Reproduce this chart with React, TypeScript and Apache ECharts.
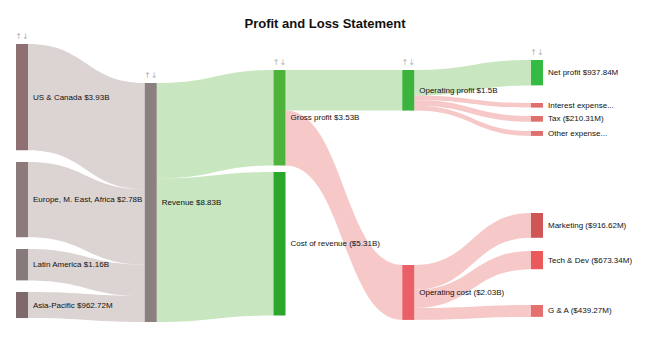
import React, { useEffect, useRef } from "react";
import * as echarts from "echarts";

const nodeNames = [
  "US & Canada",
  "Europe, M. East, Africa",
  "Latin America",
  "Asia-Pacific",
  "Revenue",
  "Gross profit",
  "Cost of revenue",
  "Operating profit",
  "Operating cost",
  "Net profit",
  "Interest expense",
  "Tax",
  "Other expense",
  "Marketing",
  "Tech & Dev",
  "G & A",
];
const nodeLabels = [
  "US & Canada $3.93B",
  "Europe, M. East, Africa $2.78B",
  "Latin America $1.16B",
  "Asia-Pacific $962.72M",
  "Revenue $8.83B",
  "Gross profit $3.53B",
  "Cost of revenue ($5.31B)",
  "Operating profit $1.5B",
  "Operating cost ($2.03B)",
  "Net profit $937.84M",
  "Interest expense...",
  "Tax ($210.31M)",
  "Other expense...",
  "Marketing ($916.62M)",
  "Tech & Dev ($673.34M)",
  "G & A ($439.27M)",
];
const nodeColors = [
  "#8e7072",
  "#8c7a7b",
  "#867a7a",
  "#7e6a6c",
  "#8a8080",
  "#4db33a",
  "#2ba82b",
  "#3cb33c",
  "#ea6068",
  "#33bb44",
  "#e07070",
  "#e07070",
  "#e07070",
  "#d05555",
  "#ea5a5a",
  "#e57070",
];
// vertical placement of each node's top edge (px from the chart top), as in the reference layout
const nodeTops = [44, 162, 249, 292, 83, 70, 172, 70, 265, 60, 103, 116, 131, 213, 251, 305];

const linkSources = [
  "US & Canada",
  "Europe, M. East, Africa",
  "Latin America",
  "Asia-Pacific",
  "Revenue",
  "Revenue",
  "Gross profit",
  "Gross profit",
  "Operating profit",
  "Operating profit",
  "Operating profit",
  "Operating profit",
  "Operating cost",
  "Operating cost",
  "Operating cost",
];
const linkTargets = [
  "Revenue",
  "Revenue",
  "Revenue",
  "Revenue",
  "Gross profit",
  "Cost of revenue",
  "Operating profit",
  "Operating cost",
  "Net profit",
  "Interest expense",
  "Tax",
  "Other expense",
  "Marketing",
  "Tech & Dev",
  "G & A",
];
// millions of dollars
const linkValues = [
  3930, 2780, 1160, 962.72, 3529.23, 5303.49, 1500, 2029.23, 937.84, 170,
  210.31, 181.85, 916.62, 673.34, 439.27,
];
const linkColors = [
  "#c5b6b6",
  "#c5b6b6",
  "#c5b6b6",
  "#c5b6b6",
  "#a3d596",
  "#a3d596",
  "#a3d596",
  "#f0a3a3",
  "#a3d596",
  "#f0a3a3",
  "#f0a3a3",
  "#f0a3a3",
  "#f0a3a3",
  "#f0a3a3",
  "#f0a3a3",
];

const W = 650;
const H = 351;
const TOP = 44;
const BOTTOM = 32;
const LEFT = 16;
const RIGHT = 107;
const NODE_W = 12;

export default function App() {
  const ref = useRef<HTMLDivElement>(null);
  useEffect(() => {
    if (!ref.current) return;
    const chart = echarts.init(ref.current, undefined, { renderer: "svg" });
    const labelMap: Record<string, string> = {};
    nodeNames.forEach((n, i) => (labelMap[n] = nodeLabels[i]));
    const layoutH = H - TOP - BOTTOM;
    const layoutW = W - LEFT - RIGHT;
    const colStep = (layoutW - NODE_W) / 4;
    // index of the first node in each column
    const colFirst = [0, 4, 5, 7, 9];
    const icons = colFirst.map((ni, c) => ({
      type: "text",
      x: LEFT + c * colStep + NODE_W / 2,
      y: nodeTops[ni] - 8,
      style: {
        text: "↑↓",
        fill: "#b0b0b0",
        fontSize: 8,
        fontFamily: "DejaVu Sans, sans-serif",
        align: "center",
        verticalAlign: "middle",
      },
      silent: true,
    }));
    chart.setOption({
      animation: false,
      backgroundColor: "#ffffff",
      title: {
        text: "Profit and Loss Statement",
        left: "center",
        top: 12,
        textStyle: {
          fontFamily: "Liberation Sans, Arial, sans-serif",
          fontSize: 13,
          fontWeight: "bold",
          color: "#111",
        },
      },
      graphic: icons,
      series: [
        {
          type: "sankey",
          left: LEFT,
          right: RIGHT,
          top: TOP,
          bottom: BOTTOM,
          nodeWidth: NODE_W,
          nodeGap: 12,
          nodeAlign: "left",
          layoutIterations: 0,
          draggable: false,
          emphasis: { disabled: true },
          data: nodeNames.map((n, i) => ({
            name: n,
            localY: (nodeTops[i] - TOP) / layoutH,
            itemStyle: { color: nodeColors[i], borderWidth: 0 },
          })),
          links: linkSources.map((s, i) => ({
            source: s,
            target: linkTargets[i],
            value: linkValues[i],
            lineStyle: { color: linkColors[i], opacity: 0.6 },
          })),
          lineStyle: { curveness: 0.5 },
          label: {
            position: "right",
            distance: 5,
            fontFamily: "Liberation Sans, Arial, sans-serif",
            fontSize: 8,
            color: "#111",
            formatter: (p: any) => labelMap[p.name],
          },
        },
      ],
    });
    return () => chart.dispose();
  }, []);
  return (
    <div
      ref={ref}
      style={{ position: "absolute", left: 0, top: 0, width: W, height: H }}
    />
  );
}
